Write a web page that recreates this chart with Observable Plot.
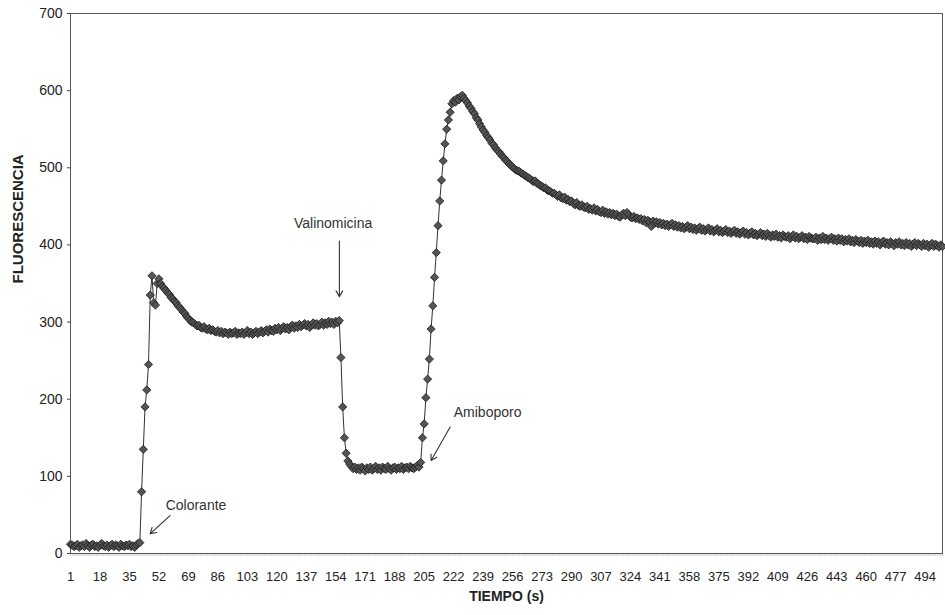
<!DOCTYPE html>
<html>
<head>
<meta charset="utf-8">
<script src="https://cdn.jsdelivr.net/npm/d3@7"></script>
<script src="https://cdn.jsdelivr.net/npm/@observablehq/plot@0.6"></script>
<style>
  html, body { margin: 0; padding: 0; background: #ffffff; }
  #chart { width: 945px; height: 615px; }
  svg { font-family: "Liberation Sans", Arial, sans-serif; }
</style>
</head>
<body>
<div id="chart"></div>
<script>
// ---- data (fluorescence per time step) ----
const segBasal = [12,11,9,10,12,8,10,11,9,13,10,8,11,12,9,10,8,11,13,10,9,11,8,10,12,9,11,10,8,12,10,9,11,10,12,9,10,8,11,13,14];
const segColorante = [80,135,190,212,245,335,360,325,322,350,356,350,346];
const segMeseta1 = [
  344,341,338,336,332,330,327,325,321,319,
  316,313,311,307,305,302,300,299,297,295,
  296,293,292,294,291,290,292,289,290,288,
  287,289,286,288,285,287,286,284,287,285,
  286,288,284,286,285,287,284,286,289,285,
  287,284,286,288,285,287,289,286,288,290,
  287,291,289,288,292,290,293,289,292,294,
  291,293,290,294,296,292,295,293,297,294,
  296,298,295,297,293,296,299,296,298,295,
  297,300,296,299,297,301,298,300,297,301,
  299,302];
const segValinomicina = [254,190,150,130,120,116];
const segMeseta2 = [
  113,110,112,109,111,108,112,110,107,111,
  109,112,108,110,113,109,111,108,112,110,
  109,113,110,108,111,112,109,111,110,113,
  109,111,112,110,113,111,110,112,114,112];
const segAmiboporo = [118,150,168,202,226,252,291,321,358,390,425,457,484,509,531,550,562,572,583,587,585,590,588,592,594];
const segDecaimiento = [
  590,587,584,580,577,573,570,565,562,557,
  553,549,546,542,539,536,532,530,526,523,
  521,518,515,513,510,508,505,503,501,499,
  497,496,495,493,492,490,489,487,486,484,
  482,483,480,479,477,476,474,474,471,470,
  469,467,467,465,463,465,461,460,462,458,
  459,456,457,454,452,455,451,450,452,449,
  448,450,446,447,445,448,444,446,443,442,
  445,441,443,440,442,439,441,438,440,437,
  436,439,441,438,442,439,436,435,437,434,
  435,433,434,431,433,429,432,430,424,431,
  428,430,427,429,426,428,425,427,424,426,
  428,424,426,423,425,422,424,421,423,425,
  421,423,420,422,419,421,423,419,421,418,
  420,422,418,420,417,419,421,417,419,416,
  418,420,416,418,415,417,419,415,417,414,
  416,418,414,416,413,415,417,413,415,412,
  414,416,
  412,414,411,415,412,410,413,411,414,410,
  412,409,413,411,410,412,408,411,413,409,
  411,408,410,412,408,410,407,411,409,408,
  408,410,406,409,407,411,407,409,406,408,
  410,406,408,405,409,406,408,404,407,405,
  408,404,406,403,407,405,403,406,402,405,
  403,406,402,404,401,405,402,404,400,403,
  405,401,403,400,404,402,399,403,401,404,
  400,402,399,403,400,402,398,401,403,399,
  402,400,398,402,399,401,397,400,402,398,
  401,399,397,400,398];

const xTickLabels = [1,18,35,52,69,86,103,120,137,154,171,188,205,222,239,256,273,290,307,324,341,358,375,392,409,426,443,460,477,494];
const yTicks = [0,100,200,300,400,500,600,700];

const annotLabels = ["Colorante", "Valinomicina", "Amiboporo"];
const annotTextX = [73.4, 152.5, 241.6];
const annotTextY = [62, 428, 183];
const arrowX1 = [58.4, 156.1, 220];
const arrowY1 = [49, 405, 164];
const arrowX2 = [46.9, 156.1, 209];
const arrowY2 = [25.5, 333, 120.5];

// ---- build table ----
const values = [].concat(segBasal, segColorante, segMeseta1, segValinomicina, segMeseta2, segAmiboporo, segDecaimiento);
const data = values.map((v, i) => ({t: i + 1, f: v}));
const nPoints = values.length;
const annots = annotLabels.map((label, i) => ({
  label, tx: annotTextX[i], ty: annotTextY[i],
  x1: arrowX1[i], y1: arrowY1[i], x2: arrowX2[i], y2: arrowY2[i]
}));

const chart = Plot.plot({
  width: 945,
  height: 615,
  marginLeft: 70,
  marginRight: 3,
  marginTop: 13,
  marginBottom: 62,
  style: {fontFamily: "'Liberation Sans', Arial, sans-serif", background: "transparent"},
  x: {domain: [1, nPoints], label: null},
  y: {domain: [0, 700], label: null},
  marks: [
    Plot.axisX(d3.range(1, nPoints + 1), {tickSize: 3, text: null, stroke: "#9a9a9a", strokeOpacity: 0.45, label: null}),
    Plot.axisX(xTickLabels, {tickSize: 0, tickPadding: 18, fontSize: 13, fill: "#222", label: null}),
    Plot.axisY(yTicks, {tickSize: 3, tickPadding: 5, fontSize: 14, fill: "#222", stroke: "#444", label: null}),
    Plot.frame({stroke: "#555", strokeWidth: 1}),
    Plot.line(data, {x: "t", y: "f", stroke: "#333", strokeWidth: 1}),
    Plot.dot(data, {x: "t", y: "f", symbol: "diamond2", r: 3.7, fill: "#555", stroke: "#1a1a1a", strokeWidth: 0.8}),
    Plot.text(annots, {x: "tx", y: "ty", text: "label", fontSize: 14, fill: "#333", textAnchor: "middle"}),
    Plot.arrow(annots, {x1: "x1", y1: "y1", x2: "x2", y2: "y2", stroke: "#333", strokeWidth: 1.1, headLength: 9}),
    Plot.text(["TIEMPO (s)"], {frameAnchor: "bottom", dy: 47, fontSize: 14, fontWeight: "bold", fill: "#222"}),
    Plot.text(["FLUORESCENCIA"], {frameAnchor: "left", dx: -52, rotate: -90, fontSize: 15, fontWeight: "bold", fill: "#222"})
  ]
});
document.getElementById("chart").appendChild(chart);
</script>
</body>
</html>
